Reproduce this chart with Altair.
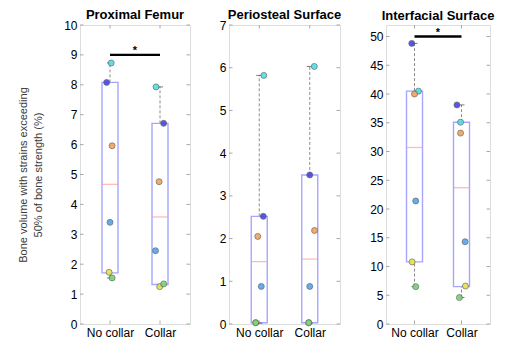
import altair as alt
import pandas as pd

# ---------------- data ----------------
subjects = ["S1", "S2", "S3", "S4", "S5", "S6"]
subject_colors = ["#4646e6", "#4fe0e6", "#f2a35a", "#55a4ee", "#e6e64a", "#78d478"]
groups = ["No collar", "Collar"]
group_pos = [1, 2]

panel_titles = ["Proximal Femur", "Periosteal Surface", "Interfacial Surface"]
y_title = ["Bone volume with strains exceeding", "50% of bone strength (%)"]

# per-subject values (order = subjects)
pf_nocollar = [8.08, 8.73, 5.96, 3.40, 1.73, 1.54]
pf_collar = [6.71, 7.93, 4.76, 2.45, 1.25, 1.34]
ps_nocollar = [2.52, 5.82, 2.05, 0.88, 0.03, 0.03]
ps_collar = [3.49, 6.03, 2.19, 0.88, 0.03, 0.03]
if_nocollar = [48.8, 40.5, 40.0, 21.4, 10.8, 6.5]
if_collar = [38.1, 35.1, 33.2, 14.3, 6.6, 4.6]

# horizontal jitter of the scatter points (x units)
pf_jit_nocollar = [-0.067, 0.024, 0.042, 0.0, -0.018, 0.042]
pf_jit_collar = [0.073, -0.079, -0.018, -0.09, -0.006, 0.073]
ps_jit_nocollar = [0.08, 0.09, -0.03, 0.04, -0.07, -0.07]
ps_jit_collar = [0.0, 0.09, 0.095, 0.0, -0.02, -0.02]
if_jit_nocollar = [-0.058, 0.084, 0.0, 0.026, -0.05, 0.026]
if_jit_collar = [-0.097, -0.02, -0.02, 0.077, 0.084, -0.045]

# box statistics: whisker low, q1, median, q3, whisker high
pf_box_nocollar = [1.54, 1.71, 4.67, 8.08, 8.73]
pf_box_collar = [1.25, 1.32, 3.58, 6.71, 7.93]
ps_box_nocollar = [0.02, 0.03, 1.46, 2.52, 5.82]
ps_box_collar = [0.02, 0.03, 1.52, 3.49, 6.03]
if_box_nocollar = [6.5, 10.8, 30.7, 40.5, 48.8]
if_box_collar = [4.6, 6.5, 23.7, 35.1, 38.1]

y_max = [10, 7, 52]
y_ticks = [list(range(0, 11)), list(range(0, 8)), list(range(0, 51, 5))]
sig_level = [9.0, None, 50.0]

# ---------------- style ----------------
FONT = "Liberation Sans"
FRAME = "#a8a8a8"
H = 299
widths = [110, 111, 104]
title_offsets = [-3, -3, 2]
TICK = 3.5


def make_panel(k, vals, jits, boxes, show_ytitle):
    W = widths[k]
    xs = alt.Scale(domain=[0.5, 2.5], nice=False, zero=False)
    ys = alt.Scale(domain=[0, y_max[k]], nice=False, zero=False)
    label_expr = "datum.value == 1 ? '%s' : '%s'" % (groups[0], groups[1])
    xaxis = alt.Axis(values=group_pos, labelExpr=label_expr, ticks=False,
                     domain=False, grid=False, labelPadding=3, labelFontSize=12)
    yaxis = alt.Axis(values=y_ticks[k], ticks=False, domain=False, grid=False,
                     labelPadding=3, labelFontSize=12,
                     titleFontSize=11, titleFontWeight="normal", titleLineHeight=15,
                     titleColor="#3a3a3a", titlePadding=20)
    yt = y_title if show_ytitle else None

    def X(f):
        return alt.X(f, type="quantitative", scale=xs, axis=xaxis, title=None)

    def Y(f):
        return alt.Y(f, type="quantitative", scale=ys, axis=yaxis, title=yt)

    pts_rows = []
    for gi, g in enumerate(groups):
        for si, s in enumerate(subjects):
            pts_rows.append({"x": group_pos[gi] + jits[gi][si], "v": vals[gi][si],
                             "subject": s, "group": g})
    pts = pd.DataFrame(pts_rows)

    box = pd.DataFrame({
        "pos": group_pos,
        "wlo": [boxes[0][0], boxes[1][0]],
        "q1": [boxes[0][1], boxes[1][1]],
        "med": [boxes[0][2], boxes[1][2]],
        "q3": [boxes[0][3], boxes[1][3]],
        "whi": [boxes[0][4], boxes[1][4]],
    })

    base_box = alt.Chart(box)
    w_up = base_box.mark_rule(color="#8c8c8c", strokeDash=[3, 2], strokeWidth=1).encode(
        x=X("pos"), y=Y("q3"), y2="whi")
    w_lo = base_box.mark_rule(color="#8c8c8c", strokeDash=[3, 2], strokeWidth=1).encode(
        x=X("pos"), y=Y("wlo"), y2="q1")
    rect = base_box.mark_bar(size=16, fillOpacity=0, stroke="#a6a6ff", strokeWidth=1.4).encode(
        x=X("pos"), y=Y("q1"), y2="q3")
    med = base_box.mark_tick(orient="horizontal", size=16, thickness=1.3, color="#ff9c9c").encode(
        x=X("pos"), y=Y("med"))
    cap_hi = base_box.mark_tick(orient="horizontal", size=6, thickness=1, color="#404040").encode(
        x=X("pos"), y=Y("whi"))
    cap_lo = base_box.mark_tick(orient="horizontal", size=6, thickness=1, color="#404040").encode(
        x=X("pos"), y=Y("wlo"))

    points = alt.Chart(pts).mark_circle(size=36, stroke="#5a5a5a", strokeWidth=0.7,
                                        opacity=0.9).encode(
        x=X("x"), y=Y("v"),
        fill=alt.Fill("subject:N", scale=alt.Scale(domain=subjects, range=subject_colors),
                      legend=None))

    yt_df = pd.DataFrame({"v": y_ticks[k]})
    xt_df = pd.DataFrame({"v": group_pos})
    tl = alt.Chart(yt_df).mark_rule(color=FRAME).encode(y=Y("v"), x=alt.value(0), x2=alt.value(TICK))
    tr = alt.Chart(yt_df).mark_rule(color=FRAME).encode(y=Y("v"), x=alt.value(W - TICK), x2=alt.value(W))
    tb = alt.Chart(xt_df).mark_rule(color=FRAME).encode(x=X("v"), y=alt.value(H - TICK), y2=alt.value(H))
    tt = alt.Chart(xt_df).mark_rule(color=FRAME).encode(x=X("v"), y=alt.value(0), y2=alt.value(TICK))

    layers = [tl, tr, tb, tt, w_up, w_lo, rect, med, cap_hi, cap_lo, points]

    if sig_level[k] is not None:
        sig = pd.DataFrame({"x1": [group_pos[0]], "x2": [group_pos[1]],
                            "xm": [(group_pos[0] + group_pos[1]) / 2], "y": [sig_level[k]]})
        bar = alt.Chart(sig).mark_rule(color="black", strokeWidth=2.4).encode(
            x=X("x1"), x2="x2", y=Y("y"))
        star = alt.Chart(sig).mark_text(text="*", dy=-4, fontSize=11, fontWeight="bold",
                                        color="black", font=FONT).encode(x=X("xm"), y=Y("y"))
        layers += [bar, star]

    return alt.layer(*layers).properties(
        width=W, height=H,
        title=alt.TitleParams(panel_titles[k], offset=title_offsets[k]))


p1 = make_panel(0, [pf_nocollar, pf_collar], [pf_jit_nocollar, pf_jit_collar],
                [pf_box_nocollar, pf_box_collar], True)
p2 = make_panel(1, [ps_nocollar, ps_collar], [ps_jit_nocollar, ps_jit_collar],
                [ps_box_nocollar, ps_box_collar], False)
p3 = make_panel(2, [if_nocollar, if_collar], [if_jit_nocollar, if_jit_collar],
                [if_box_nocollar, if_box_collar], False)

chart = alt.hconcat(p1, p2, p3, spacing=27).properties(
    padding={"left": 9, "top": 0, "right": 2, "bottom": 0}
).configure_view(
    stroke=FRAME, strokeWidth=1
).configure_axis(
    labelFont=FONT, titleFont=FONT, labelColor="#262626"
).configure_title(
    font=FONT, fontSize=13.5, fontWeight="bold", color="#000000",
    anchor="middle", baseline="alphabetic"
).configure(background="white")

chart.save("out.html", embed_options={"renderer": "svg", "actions": False})
